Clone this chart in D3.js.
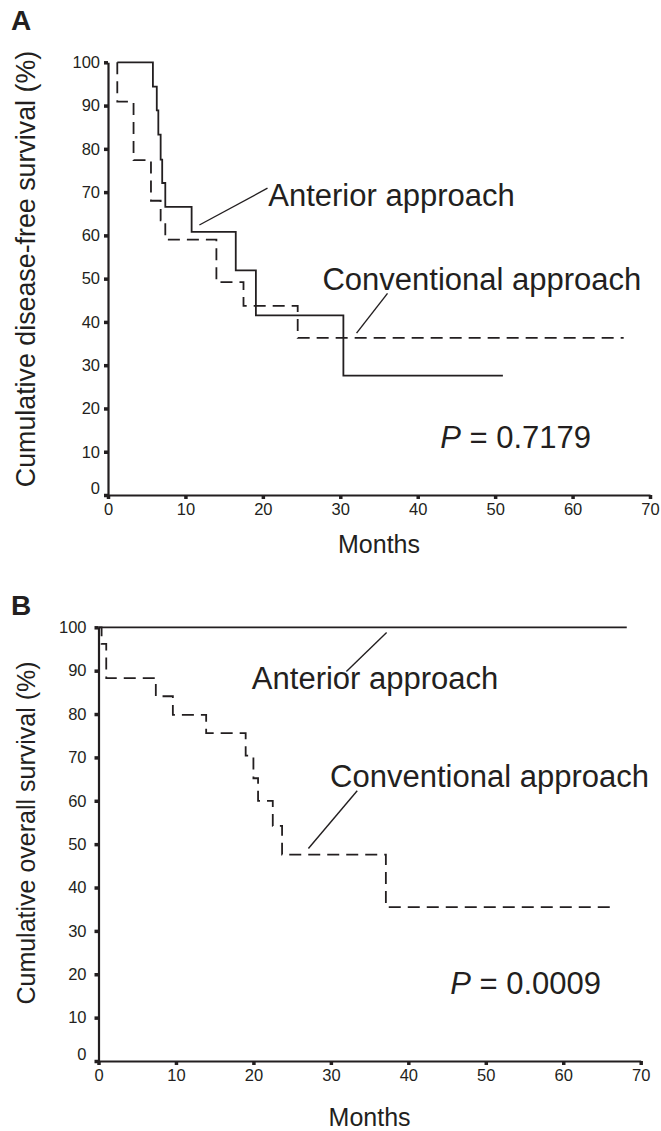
<!DOCTYPE html>
<html>
<head>
<meta charset="utf-8">
<title>Disease-free and overall survival</title>
<script src="https://d3js.org/d3.v7.min.js"></script>
<style>
  body { margin: 0; background: #fff; }
  svg text { font-family: "Liberation Sans", Arial, sans-serif; fill: #231f20; }
</style>
</head>
<body>
<svg id="chart" width="661" height="1131"></svg>
<script>
// tick values
const monthTicks = [0, 10, 20, 30, 40, 50, 60, 70];
const percentTicks = [0, 10, 20, 30, 40, 50, 60, 70, 80, 90, 100];

const groupNames = ['Anterior approach', 'Conventional approach'];
const yTitles = ['Cumulative disease-free survival (%)', 'Cumulative overall survival (%)'];
const pValues = ['0.7179', '0.0009'];

// A: disease-free survival, step points (month, %)
const dfsAnteriorMonths = [1.2, 5.8, 6.3, 6.5, 6.8, 7.0, 7.4, 10.8, 16.5, 19.1, 30.4, 51.0];
const dfsAnteriorPct    = [100, 94.4, 88.9, 83.3, 77.5, 72.1, 66.6, 60.8, 51.9, 41.5, 27.6, 27.6];
const dfsConvMonths = [1.2, 1.2, 3.3, 5.55, 6.8, 7.4, 14.0, 17.5, 24.5, 66.6];
const dfsConvPct    = [100, 90.9, 77.4, 68.0, 63.5, 59.0, 49.2, 43.7, 36.3, 36.3];

// B: overall survival
const osAnteriorMonths = [0, 68.2];
const osAnteriorPct    = [100, 100];
const osConvMonths = [0, 0.4, 1.0, 7.4, 9.6, 13.9, 19.0, 20.0, 20.6, 22.5, 23.7, 37.1, 66.4];
const osConvPct    = [100, 96.2, 88.3, 84.1, 79.8, 75.6, 70.4, 65.2, 60.0, 54.2, 47.6, 35.5, 35.5];

// layout of the two panels (pixels), label anchors in data units
const panels = [
  {
    letter: 'A', letterY: 30,
    left: 108, right: 650, top: 62.3, bottom: 495,
    title: yTitles[0], titleY: 269, titleSize: 26.8, yPad: 4, monthsY: 553,
    anterior: d3.zip(dfsAnteriorMonths, dfsAnteriorPct),
    conv: d3.zip(dfsConvMonths, dfsConvPct),
    p: pValues[0], pAt: [42.9, 10.8],
    antText: [20.7, 66.9], antLine: [[11.8, 62.4], [20.6, 70.9]],
    convText: [27.7, 47.4], convLine: [[32.1, 37.4], [36.1, 46.6]]
  },
  {
    letter: 'B', letterY: 615,
    left: 98.5, right: 640.7, top: 627.3, bottom: 1061,
    title: yTitles[1], titleY: 833, titleSize: 25, yPad: 8, monthsY: 1126,
    anterior: d3.zip(osAnteriorMonths, osAnteriorPct),
    conv: d3.zip(osConvMonths, osConvPct),
    p: pValues[1], pAt: [45.4, 15.4],
    antText: [19.8, 85.7], antLine: [[37.2, 98.8], [32.0, 89.8]],
    convText: [29.9, 63.2], convLine: [[33.4, 62.3], [27.1, 49.0]]
  }
];

const ink = '#231f20';
const svg = d3.select('#chart');

panels.forEach(p => {
  const x = d3.scaleLinear().domain([0, 70]).range([p.left, p.right]);
  const y = d3.scaleLinear().domain([0, 100]).range([p.bottom, p.top]);
  const g = svg.append('g');

  // panel letter
  g.append('text')
    .attr('x', 11).attr('y', p.letterY)
    .attr('font-size', 28).attr('font-weight', 'bold')
    .text(p.letter);

  // y title
  g.append('text')
    .attr('transform', `translate(35,${p.titleY}) rotate(-90)`)
    .attr('text-anchor', 'middle')
    .attr('font-size', p.titleSize)
    .text(p.title);

  // x axis
  const xAxis = g.append('g')
    .attr('transform', `translate(0,${p.bottom})`)
    .call(d3.axisBottom(x).tickValues(monthTicks).tickSize(4).tickSizeOuter(0).tickPadding(4));

  // y axis
  const yAxis = g.append('g')
    .attr('transform', `translate(${p.left},0)`)
    .call(d3.axisLeft(y).tickValues(percentTicks).tickSize(4).tickSizeOuter(0).tickPadding(p.yPad));

  [xAxis, yAxis].forEach(a => {
    a.attr('color', ink)
      .attr('font-family', '"Liberation Sans", Arial, sans-serif')
      .attr('font-size', 16.5);
    a.select('.domain').attr('stroke-width', 2.2);
    a.selectAll('.tick line').attr('stroke-width', 3.5);
  });
  // lift the zero label off the corner
  yAxis.selectAll('.tick').filter(d => d === 0).select('text').attr('y', -7);

  // months label
  g.append('text')
    .attr('x', (p.left + p.right) / 2).attr('y', p.monthsY)
    .attr('text-anchor', 'middle')
    .attr('font-size', 25)
    .text('Months');

  // survival curves
  const line = d3.line()
    .x(d => x(d[0]))
    .y(d => y(d[1]))
    .curve(d3.curveStepAfter);

  g.append('path')
    .datum(p.conv)
    .attr('d', line)
    .attr('fill', 'none')
    .attr('stroke', ink)
    .attr('stroke-width', 1.8)
    .attr('stroke-dasharray', '12,7');

  g.append('path')
    .datum(p.anterior)
    .attr('d', line)
    .attr('fill', 'none')
    .attr('stroke', ink)
    .attr('stroke-width', 1.8);

  // group labels with leader lines
  [[groupNames[0], p.antText, p.antLine], [groupNames[1], p.convText, p.convLine]].forEach(([name, at, ln]) => {
    g.append('line')
      .attr('x1', x(ln[0][0])).attr('y1', y(ln[0][1]))
      .attr('x2', x(ln[1][0])).attr('y2', y(ln[1][1]))
      .attr('stroke', ink)
      .attr('stroke-width', 1.4);
    g.append('text')
      .attr('x', x(at[0])).attr('y', y(at[1]))
      .attr('font-size', 31)
      .text(name);
  });

  // p value
  const pt = g.append('text')
    .attr('x', x(p.pAt[0])).attr('y', y(p.pAt[1]))
    .attr('font-size', 31);
  pt.append('tspan').attr('font-style', 'italic').text('P');
  pt.append('tspan').text(' = ' + p.p);
});
</script>
</body>
</html>
